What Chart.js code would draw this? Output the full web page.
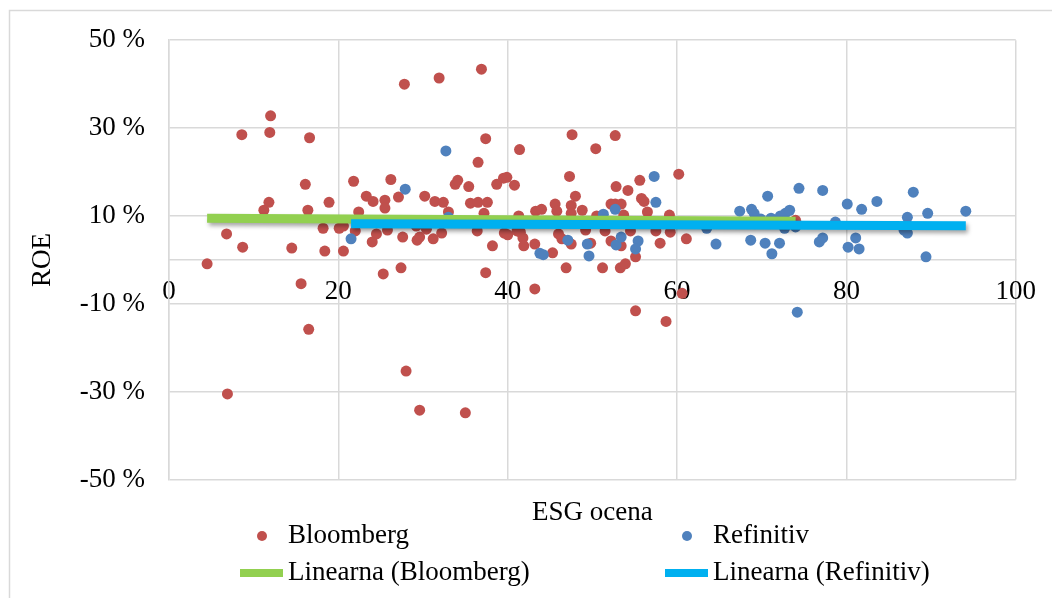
<!DOCTYPE html>
<html>
<head>
<meta charset="utf-8">
<script src="https://cdn.jsdelivr.net/npm/chart.js@4/dist/chart.umd.min.js"></script>
<style>
  body { margin: 0; background: #fff; }
  #wrap { position: relative; width: 1052px; height: 598px; }
</style>
</head>
<body>
<div id="wrap"><canvas id="chart"></canvas></div>
<script>
// ESG ocena (x) in ROE v % (y), odčitano s slike
const bloombergEsg = [4.5, 6.8, 6.9, 8.7, 8.6, 11.2, 11.8, 12.0, 11.9, 14.5, 15.6, 16.1, 16.4, 16.5, 16.6, 18.2, 18.4, 18.9, 20.1, 20.6,
  20.6, 21.8, 22.0, 22.4, 23.3, 24.1, 24.5, 24.0, 25.3, 25.5, 25.5, 25.8, 26.2, 27.1, 27.4, 27.6, 27.8, 28.0, 29.2, 29.3,
  29.6, 29.6, 30.2, 30.4, 31.2, 31.4, 31.9, 32.2, 32.4, 33.0, 33.8, 34.1, 35.0, 35.4, 35.6, 36.5, 36.5, 36.4, 36.9, 37.4,
  37.4, 37.6, 37.2, 38.2, 38.7, 39.5, 39.9, 39.6, 40.0, 40.8, 41.3, 41.4, 41.1, 41.5, 41.8, 41.9, 43.2, 43.2, 43.3, 44.0,
  45.3, 45.6, 45.8, 46.0, 46.4, 46.9, 47.3, 47.5, 47.5, 47.5, 47.6, 48.0, 48.8, 49.2, 49.8, 50.4, 50.5, 51.2, 51.5, 52.2,
  52.2, 52.7, 52.7, 52.8, 53.3, 53.4, 53.4, 53.7, 53.9, 54.2, 54.5, 55.1, 55.1, 55.6, 55.8, 56.1, 56.5, 57.5, 58.0, 58.7,
  59.1, 59.2, 60.2, 60.6, 61.1, 74.0];
const bloombergRoe = [-0.9, 5.9, -30.5, 2.9, 28.5, 11.3, 13.1, 32.8, 29.0, 2.7, -5.4, 17.2, 11.3, -15.8, 27.8, 7.2, 2.0, 13.1, 7.2, 7.7,
  2.0, 17.9, 6.6, 10.9, 14.5, 13.3, 5.9, 4.1, -3.2, 13.6, 11.8, 6.8, 18.3, 14.3, -1.8, 5.2, 40.0, -25.3, 7.7, 4.5,
  5.2, -34.2, 14.5, 7.0, 4.8, 13.3, 41.4, 6.1, 13.1, 10.9, 17.2, 18.1, -34.8, 16.7, 12.9, 22.2, 13.1, 6.6, 43.4, 27.6,
  -2.9, 13.1, 10.6, 3.2, 17.2, 18.6, 18.8, 6.1, 5.7, 17.0, 10.0, 25.1, 6.6, 6.3, 5.0, 3.2, 3.6, -6.6, 11.1, 11.5,
  1.6, 12.7, 11.1, 5.9, 4.8, -1.8, 19.0, 12.4, 10.6, 3.6, 28.5, 14.5, 11.3, 6.8, 3.8, 25.3, 10.0, -1.8, 6.6, 4.3,
  12.7, 28.3, 12.7, 16.7, -1.8, 12.7, 3.2, 10.2, -0.9, 15.8, 6.6, 0.7, -11.6, 18.1, 14.0, 13.3, 10.9, 6.6, 3.8, -14.0,
  10.2, 6.3, 19.5, -7.6, 4.8, 9.0];

const refinitivEsg = [21.5, 27.9, 32.7, 33.0, 43.8, 44.2, 47.1, 49.4, 49.6, 51.3, 52.7, 52.8, 53.4, 55.4, 55.1, 57.3, 57.5, 63.5, 64.6, 67.4,
  68.8, 69.1, 70.7, 69.9, 71.1, 72.2, 72.8, 73.3, 72.7, 74.0, 68.7, 70.4, 72.1, 71.2, 74.2, 74.4, 77.2, 78.7, 76.8, 77.2,
  80.1, 80.2, 81.1, 81.5, 81.8, 83.6, 87.9, 87.2, 89.6, 94.1, 86.8, 87.2, 89.4];
const refinitivRoe = [4.8, 16.1, 24.8, 9.7, 1.5, 1.2, 4.5, 3.6, 0.9, 10.4, 11.5, 3.4, 5.2, 4.3, 2.5, 19.0, 13.1, 7.2, 3.6, 11.1,
  11.5, 10.6, 14.5, 9.3, 9.5, 10.0, 10.6, 11.3, 7.2, 7.5, 4.5, 3.8, 3.8, 1.4, -11.9, 16.3, 15.8, 8.6, 4.1, 5.0,
  12.7, 2.9, 5.0, 2.5, 11.5, 13.3, 15.4, 9.7, 10.6, 11.1, 6.8, 6.1, 0.7];

// linearni trendi (začetek in konec)
const bloombergTrendEsg = [4.5, 74.0];
const bloombergTrendRoe = [9.5, 8.8];
const refinitivTrendEsg = [21.5, 94.1];
const refinitivTrendRoe = [8.2, 7.8];

const xTicks = [0, 20, 40, 60, 80, 100];
const yTicks = [-50, -30, -10, 10, 30, 50];

const gridColor = "#d9d9d9";
const fontFamily = "'Liberation Serif', 'Times New Roman', serif";

Chart.defaults.font.family = fontFamily;
Chart.defaults.font.size = 27;
Chart.defaults.color = "#000";

function toPoints(xs, ys) {
  return xs.map((x, i) => ({ x: x, y: ys[i] }));
}

// bel ozadje in zunanji okvir
const frame = {
  id: "frame",
  beforeDraw(chart) {
    const ctx = chart.ctx;
    ctx.save();
    ctx.fillStyle = "#fff";
    ctx.fillRect(0, 0, chart.width, chart.height);
    ctx.strokeStyle = gridColor;
    ctx.lineWidth = 1.5;
    ctx.beginPath();
    ctx.moveTo(9.5, chart.height);
    ctx.lineTo(9.5, 10.5);
    ctx.lineTo(chart.width, 10.5);
    ctx.stroke();
    ctx.restore();
  }
};

// senca pod trendnimi črtami (kot v Excelu)
const trendShadow = {
  id: "trendShadow",
  beforeDatasetDraw(chart, args) {
    if (args.index < 2) return;
    const ctx = chart.ctx;
    ctx.save();
    ctx.shadowColor = "rgba(0,0,0,0.35)";
    ctx.shadowBlur = 4;
    ctx.shadowOffsetX = 2;
    ctx.shadowOffsetY = 3;
  },
  afterDatasetDraw(chart, args) {
    if (args.index < 2) return;
    chart.ctx.restore();
  }
};

// legenda v dveh stolpcih pod grafom
const bottomLegend = {
  id: "bottomLegend",
  afterDraw(chart) {
    const ctx = chart.ctx;
    const colX = [240, 665];
    const rowY = [536, 573];
    chart.data.datasets.forEach((ds, i) => {
      const x = colX[i % 2];
      const y = rowY[Math.floor(i / 2)];
      ctx.save();
      if (ds.type === "line") {
        ctx.fillStyle = ds.borderColor;
        ctx.fillRect(x, y - 4, 43, 8);
      } else {
        ctx.fillStyle = ds.backgroundColor;
        ctx.beginPath();
        ctx.arc(x + 22, y, 5, 0, Math.PI * 2);
        ctx.fill();
      }
      ctx.fillStyle = "#000";
      ctx.font = "27px " + fontFamily;
      ctx.textBaseline = "middle";
      ctx.fillText(ds.label, x + 48, y);
      ctx.restore();
    });
  }
};

new Chart(document.getElementById("chart"), {
  type: "scatter",
  data: {
    datasets: [
      {
        label: "Bloomberg",
        data: toPoints(bloombergEsg, bloombergRoe),
        backgroundColor: "#c0504d",
        borderWidth: 0,
        pointRadius: 5.5,
        order: 4
      },
      {
        label: "Refinitiv",
        data: toPoints(refinitivEsg, refinitivRoe),
        backgroundColor: "#4f81bd",
        borderWidth: 0,
        pointRadius: 5.5,
        order: 3
      },
      {
        type: "line",
        label: "Linearna (Bloomberg)",
        data: toPoints(bloombergTrendEsg, bloombergTrendRoe),
        borderColor: "#92d050",
        borderWidth: 9,
        borderCapStyle: "butt",
        pointRadius: 0,
        order: 2
      },
      {
        type: "line",
        label: "Linearna (Refinitiv)",
        data: toPoints(refinitivTrendEsg, refinitivTrendRoe),
        borderColor: "#00b0f0",
        borderWidth: 9,
        borderCapStyle: "butt",
        pointRadius: 0,
        order: 1
      }
    ]
  },
  options: {
    responsive: true,
    maintainAspectRatio: false,
    animation: false,
    layout: { padding: { top: 38, right: 32, bottom: 69, left: 0 } },
    plugins: {
      legend: { display: false },
      tooltip: { enabled: false }
    },
    scales: {
      x: {
        type: "linear",
        position: { y: 0 },
        min: xTicks[0],
        max: xTicks[xTicks.length - 1],
        ticks: { stepSize: 20, padding: 16, maxRotation: 0 },
        grid: { color: gridColor, lineWidth: 1.5, drawTicks: false },
        border: { color: gridColor, width: 1.5 }
      },
      xTitle: {
        type: "linear",
        position: "bottom",
        min: xTicks[0],
        max: xTicks[xTicks.length - 1],
        ticks: { display: false },
        grid: { display: false, drawTicks: false },
        border: { display: false },
        title: { display: true, text: "ESG ocena", padding: { top: 17, bottom: 0 } }
      },
      y: {
        min: yTicks[0],
        max: yTicks[yTicks.length - 1],
        ticks: { stepSize: 20, padding: 24, callback: v => v + " %" },
        grid: { color: gridColor, lineWidth: 1.5, drawTicks: false },
        border: { color: gridColor, width: 1.5 },
        title: { display: true, text: "ROE", padding: { top: 27, bottom: 0 } },
        afterFit: scale => { scale.width = 169; }
      }
    }
  },
  plugins: [frame, trendShadow, bottomLegend]
});
</script>
</body>
</html>
